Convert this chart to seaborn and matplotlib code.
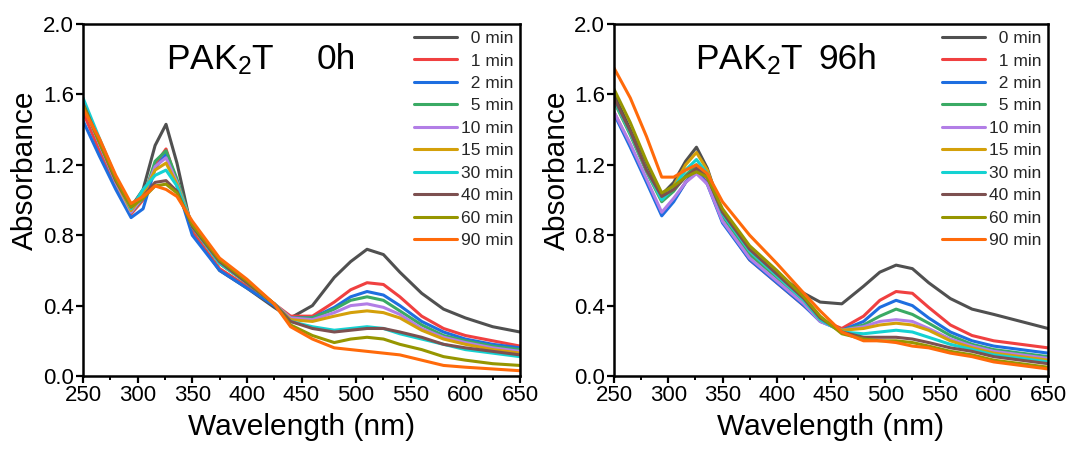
import matplotlib
matplotlib.use("Agg")
import matplotlib.pyplot as plt
import seaborn as sns
import pandas as pd
from matplotlib.ticker import MultipleLocator

# ---------------- data ----------------
wavelength = [250, 265, 280, 294, 305, 316, 326, 336, 350, 375, 400, 425,
              440, 460, 480, 495, 510, 525, 540, 560, 580, 600, 625, 650]
times = ["0 min", "1 min", "2 min", "5 min", "10 min", "15 min",
         "30 min", "40 min", "60 min", "90 min"]
colors = ["#505050", "#f04040", "#1e6ee0", "#3aaa64", "#b27ee6",
          "#d4a00a", "#14d2d2", "#7d5050", "#969600", "#ff6a0a"]

# PAK2T 0h
a0_0 = [1.55, 1.33, 1.10, 0.96, 1.06, 1.31, 1.43, 1.21, 0.82, 0.60, 0.50, 0.39, 0.33, 0.40, 0.56, 0.65, 0.72, 0.69, 0.59, 0.47, 0.38, 0.33, 0.28, 0.25]
a0_1 = [1.50, 1.28, 1.08, 0.92, 1.00, 1.20, 1.29, 1.10, 0.82, 0.61, 0.51, 0.41, 0.34, 0.34, 0.42, 0.49, 0.53, 0.52, 0.45, 0.34, 0.27, 0.23, 0.20, 0.17]
a0_2 = [1.45, 1.25, 1.06, 0.90, 0.95, 1.18, 1.26, 1.08, 0.80, 0.60, 0.50, 0.40, 0.33, 0.33, 0.39, 0.45, 0.48, 0.46, 0.40, 0.31, 0.25, 0.21, 0.18, 0.16]
a0_5 = [1.55, 1.32, 1.10, 0.93, 1.01, 1.22, 1.28, 1.12, 0.85, 0.64, 0.53, 0.41, 0.33, 0.33, 0.38, 0.43, 0.45, 0.43, 0.37, 0.29, 0.23, 0.20, 0.17, 0.15]
a0_10 = [1.55, 1.32, 1.10, 0.93, 1.02, 1.19, 1.24, 1.10, 0.85, 0.64, 0.53, 0.41, 0.33, 0.32, 0.36, 0.40, 0.41, 0.39, 0.35, 0.27, 0.22, 0.19, 0.16, 0.14]
a0_15 = [1.55, 1.33, 1.11, 0.94, 1.03, 1.17, 1.21, 1.09, 0.85, 0.64, 0.53, 0.41, 0.32, 0.31, 0.34, 0.36, 0.37, 0.36, 0.33, 0.26, 0.21, 0.18, 0.15, 0.13]
a0_30 = [1.58, 1.35, 1.13, 0.95, 1.06, 1.14, 1.17, 1.08, 0.85, 0.64, 0.53, 0.41, 0.31, 0.28, 0.26, 0.27, 0.28, 0.27, 0.24, 0.21, 0.18, 0.15, 0.13, 0.11]
a0_40 = [1.55, 1.33, 1.11, 0.96, 1.02, 1.10, 1.11, 1.05, 0.85, 0.65, 0.53, 0.41, 0.31, 0.27, 0.25, 0.26, 0.27, 0.27, 0.25, 0.22, 0.18, 0.16, 0.14, 0.12]
a0_60 = [1.54, 1.33, 1.12, 0.96, 1.01, 1.08, 1.09, 1.04, 0.86, 0.66, 0.54, 0.41, 0.29, 0.23, 0.19, 0.21, 0.22, 0.21, 0.18, 0.15, 0.11, 0.09, 0.07, 0.06]
a0_90 = [1.52, 1.35, 1.14, 0.98, 1.02, 1.08, 1.06, 1.02, 0.88, 0.67, 0.55, 0.41, 0.28, 0.21, 0.16, 0.15, 0.14, 0.13, 0.12, 0.09, 0.06, 0.05, 0.04, 0.03]

# PAK2T 96h
a96_0 = [1.60, 1.40, 1.20, 1.03, 1.10, 1.22, 1.30, 1.18, 0.92, 0.70, 0.58, 0.47, 0.42, 0.41, 0.51, 0.59, 0.63, 0.61, 0.53, 0.44, 0.38, 0.35, 0.31, 0.27]
a96_1 = [1.50, 1.31, 1.11, 0.92, 1.00, 1.10, 1.17, 1.10, 0.88, 0.66, 0.53, 0.40, 0.32, 0.27, 0.34, 0.43, 0.48, 0.47, 0.39, 0.29, 0.23, 0.20, 0.18, 0.16]
a96_2 = [1.49, 1.30, 1.10, 0.91, 0.99, 1.10, 1.17, 1.09, 0.87, 0.66, 0.53, 0.40, 0.31, 0.26, 0.31, 0.39, 0.43, 0.40, 0.33, 0.25, 0.20, 0.17, 0.15, 0.13]
a96_5 = [1.56, 1.37, 1.16, 0.99, 1.05, 1.14, 1.20, 1.13, 0.91, 0.69, 0.56, 0.42, 0.32, 0.26, 0.29, 0.34, 0.38, 0.35, 0.30, 0.23, 0.18, 0.15, 0.13, 0.11]
a96_10 = [1.50, 1.32, 1.12, 0.93, 1.01, 1.10, 1.15, 1.09, 0.88, 0.67, 0.54, 0.41, 0.31, 0.26, 0.28, 0.31, 0.32, 0.31, 0.27, 0.21, 0.17, 0.14, 0.12, 0.10]
a96_15 = [1.57, 1.38, 1.17, 1.00, 1.08, 1.20, 1.27, 1.17, 0.93, 0.71, 0.57, 0.43, 0.32, 0.26, 0.27, 0.29, 0.30, 0.29, 0.26, 0.20, 0.16, 0.13, 0.11, 0.09]
a96_30 = [1.57, 1.38, 1.17, 1.00, 1.07, 1.17, 1.23, 1.15, 0.92, 0.71, 0.57, 0.43, 0.32, 0.25, 0.24, 0.25, 0.26, 0.25, 0.22, 0.18, 0.15, 0.12, 0.10, 0.08]
a96_40 = [1.58, 1.39, 1.17, 1.02, 1.06, 1.13, 1.18, 1.13, 0.93, 0.72, 0.58, 0.44, 0.33, 0.25, 0.22, 0.22, 0.22, 0.21, 0.19, 0.16, 0.14, 0.11, 0.09, 0.07]
a96_60 = [1.63, 1.44, 1.22, 1.04, 1.08, 1.13, 1.16, 1.13, 0.95, 0.74, 0.60, 0.45, 0.34, 0.24, 0.21, 0.20, 0.20, 0.19, 0.17, 0.14, 0.12, 0.09, 0.07, 0.05]
a96_90 = [1.75, 1.58, 1.36, 1.13, 1.13, 1.17, 1.20, 1.15, 0.99, 0.80, 0.64, 0.47, 0.37, 0.25, 0.20, 0.20, 0.19, 0.17, 0.16, 0.13, 0.11, 0.08, 0.06, 0.04]

panel0 = [a0_0, a0_1, a0_2, a0_5, a0_10, a0_15, a0_30, a0_40, a0_60, a0_90]
panel96 = [a96_0, a96_1, a96_2, a96_5, a96_10, a96_15, a96_30, a96_40, a96_60, a96_90]

x_ticks = [250, 300, 350, 400, 450, 500, 550, 600, 650]
y_ticks = [0.0, 0.4, 0.8, 1.2, 1.6, 2.0]

# ---------------- style ----------------
sns.set_theme(style="ticks")
plt.rcParams["font.family"] = ["Liberation Sans", "DejaVu Sans"]
plt.rcParams["mathtext.fontset"] = "custom"
plt.rcParams["mathtext.rm"] = "Liberation Sans"
plt.rcParams["mathtext.it"] = "Liberation Sans"


def long_df(series):
    rows = []
    for t, vals in zip(times, series):
        for w, v in zip(wavelength, vals):
            rows.append({"wl": w, "A": v, "time": t})
    return pd.DataFrame(rows)


fig = plt.figure(figsize=(10.73, 4.5), dpi=100)
W, H = 1073, 450
axes = [
    fig.add_axes([83 / W, 1 - 376 / H, (520 - 83) / W, (376 - 24) / H]),
    fig.add_axes([614 / W, 1 - 376 / H, (1048 - 614) / W, (376 - 24) / H]),
]
titles = [("PAK$_\\mathregular{2}$T", 326, "0h", 464),
          ("PAK$_\\mathregular{2}$T", 325, "96h", 438)]

for ax, series, (t1, x1, t2, x2) in zip(axes, [panel0, panel96], titles):
    df = long_df(series)
    sns.lineplot(data=df, x="wl", y="A", hue="time", hue_order=times,
                 palette=colors, ax=ax, sort=False, legend=False,
                 linewidth=2.2)
    ax.set_xlim(250, 650)
    ax.set_ylim(0, 2.0)
    ax.set_xticks(x_ticks)
    ax.set_yticks(y_ticks)
    ax.set_yticklabels([f"{v:.1f}" for v in y_ticks])
    ax.xaxis.set_minor_locator(MultipleLocator(25))
    ax.tick_params(axis="both", which="major", direction="out", length=5,
                   width=1.6, labelsize=16, pad=1.5, color="black",
                   labelcolor="black")
    ax.tick_params(axis="x", which="minor", direction="out", length=3,
                   width=1.4, color="black")
    ax.tick_params(top=False, right=False)
    for s in ax.spines.values():
        s.set_visible(True)
        s.set_linewidth(1.8)
        s.set_color("black")
    ax.set_xlabel("Wavelength (nm)", fontsize=21.5, labelpad=5, color="black")
    ax.set_ylabel("Absorbance", fontsize=21.5, color="black")
    ax.yaxis.set_label_coords(-0.1, 0.585)
    ax.text(x1, 1.745, t1, fontsize=25.5, ha="left", va="baseline", color="black")
    ax.text(x2, 1.745, t2, fontsize=25.5, ha="left", va="baseline", color="black")
    handles = ax.get_lines()[:len(times)]
    labels = [("  " + t) if len(t.split()[0]) == 1 else t for t in times]
    ax.legend(handles, labels, loc="upper right", bbox_to_anchor=(1.0, 1.0),
              frameon=False, fontsize=12.5, handlelength=2.5,
              handletextpad=0.2, labelspacing=0.42, borderaxespad=0.2,
              borderpad=0.2)

fig.savefig("out.png", dpi=100)
